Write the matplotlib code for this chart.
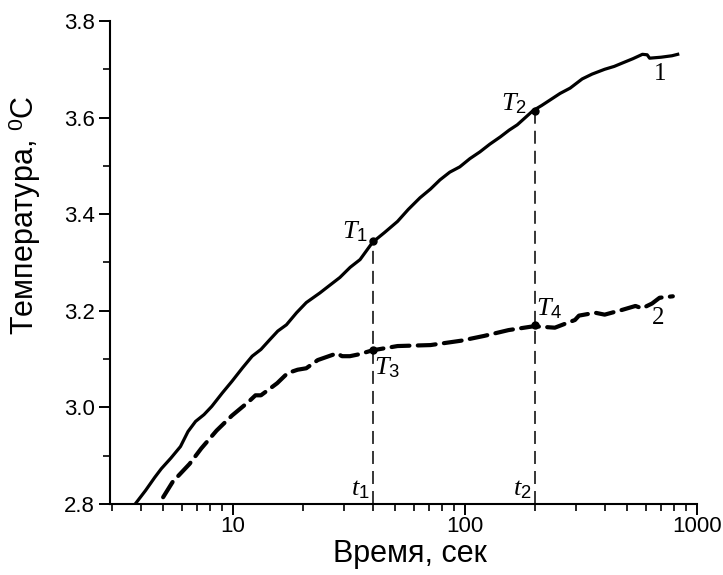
"""
plot.py
Temperature rise vs. time (log scale) for two curves, with the
reference points T1..T4 read at t1 = 40 s and t2 = 200 s.
Out: out.png
"""
import matplotlib
matplotlib.use("Agg")
import matplotlib.pyplot as plt
from matplotlib.ticker import FixedLocator, MultipleLocator, NullFormatter

# curve 1 (solid)
time1 = [3.79, 4.2, 4.6, 4.91, 5.4, 5.94, 6.4, 6.9, 7.5, 8.1, 9.0, 9.9, 11.0, 12.1,
         13.2, 14.4, 15.6, 17.0, 18.8, 20.7, 22.0, 23.7, 26.0, 28.9, 32.0, 35.3, 40.0,
         45.0, 51.2, 57.0, 64.0, 71.0, 78.0, 86.0, 95.0, 105.0, 116.0, 128.0, 142.0,
         155.0, 168.0, 182.0, 196.0, 214.0, 232.0, 257.0, 284.0, 320.0, 353.0, 400.0,
         440.0, 477.0, 530.0, 582.0, 610.0, 625.0, 700.0, 780.0, 826.0]
temp1 = [2.800, 2.828, 2.855, 2.873, 2.895, 2.919, 2.950, 2.971, 2.985, 3.002, 3.030,
         3.054, 3.082, 3.106, 3.120, 3.140, 3.158, 3.171, 3.196, 3.217, 3.226, 3.237,
         3.252, 3.269, 3.290, 3.306, 3.342, 3.362, 3.385, 3.410, 3.434, 3.452, 3.471,
         3.487, 3.498, 3.515, 3.529, 3.545, 3.560, 3.574, 3.585, 3.600, 3.614, 3.625,
         3.636, 3.650, 3.661, 3.680, 3.690, 3.700, 3.706, 3.713, 3.722, 3.731, 3.730,
         3.723, 3.725, 3.728, 3.731]

# curve 2 (dashed)
time2 = [5.0, 5.5, 6.5, 7.3, 8.5, 9.9, 11.7, 12.5, 13.2, 15.5, 17.2, 19.0, 20.7, 23.2,
         28.1, 29.5, 31.9, 35.0, 39.8, 51.2, 71.0, 96.0, 121.0, 154.0, 198.0, 244.0,
         298.0, 310.0, 364.0, 400.0, 477.0, 543.0, 580.0, 640.0, 690.0, 787.0]
temp2 = [2.814, 2.846, 2.883, 2.915, 2.952, 2.983, 3.012, 3.025, 3.025, 3.050, 3.071,
         3.078, 3.081, 3.098, 3.112, 3.106, 3.106, 3.110, 3.118, 3.127, 3.129, 3.138,
         3.148, 3.160, 3.168, 3.165, 3.181, 3.190, 3.196, 3.192, 3.202, 3.210, 3.205,
         3.215, 3.227, 3.230]

# reference times and points
t_marks = [40, 200]
t_names = ["$t_{\\mathit{1}}$", "$t_{\\mathit{2}}$"]
T_upper = [3.345, 3.614]   # T1, T2 on curve 1
T_lower = [3.119, 3.171]   # T3, T4 on curve 2

plt.rcParams.update({
    "font.family": ["Liberation Sans", "DejaVu Sans"],
    "mathtext.fontset": "custom",
    "mathtext.rm": "Liberation Sans",
    "mathtext.it": "Liberation Serif:italic",
    "mathtext.cal": "Liberation Serif:italic",
})

fig = plt.figure(figsize=(7.23, 5.75), dpi=100)
ax = fig.add_axes([0.1521, 0.1235, 0.8119, 0.8400])

ax.plot(time1, temp1, color="black", lw=2.3, solid_joinstyle="round")
ax.plot(time2, temp2, color="black", lw=3.0, linestyle=(0, (4.3, 2.0)),
        dash_capstyle="round")

for t, hi in zip(t_marks, T_upper):
    ax.plot([t, t], [2.8, hi], color="black", lw=1.1, linestyle=(0, (8.5, 4.6)))
ax.plot(t_marks, T_upper, "o", color="black", ms=5)
ax.plot(t_marks, T_lower, "o", color="black", ms=5)

lbl = 19
ax.annotate("$T_{\\mathit{1}}$", (t_marks[0], T_upper[0]), xytext=(-3, 2),
            textcoords="offset points", ha="right", va="baseline", fontsize=lbl)
ax.annotate("$T_{\\mathit{2}}$", (t_marks[1], T_upper[1]), xytext=(-6, 0),
            textcoords="offset points", ha="right", va="baseline", fontsize=lbl)
ax.annotate("$T_{\\mathit{3}}$", (t_marks[0], T_lower[0]), xytext=(1, -4),
            textcoords="offset points", ha="left", va="top", fontsize=lbl)
ax.annotate("$T_{\\mathit{4}}$", (t_marks[1], T_lower[1]), xytext=(1, 7),
            textcoords="offset points", ha="left", va="baseline", fontsize=lbl)
for t, name in zip(t_marks, t_names):
    ax.annotate(name, (t, 2.8), xytext=(-2, 6), textcoords="offset points",
                ha="right", va="baseline", fontsize=lbl)

ax.text(692, 3.69, "1", family="Liberation Serif", fontsize=18, ha="center", va="center")
ax.text(680, 3.185, "2", family="Liberation Serif", fontsize=18, ha="center", va="center")

ax.set_xscale("log")
ax.set_xlim(2.95, 1000)
ax.set_ylim(2.8, 3.8)
ax.xaxis.set_major_locator(FixedLocator([10, 100, 1000]))
ax.set_xticklabels(["10", "100", "1000"])
ax.xaxis.set_minor_locator(FixedLocator([3, 4, 5, 6, 7, 8, 9, 20, 30, 40, 50, 60, 70, 80, 90,
                                         200, 300, 400, 500, 600, 700, 800, 900]))
ax.xaxis.set_minor_formatter(NullFormatter())
ax.yaxis.set_major_locator(MultipleLocator(0.2))
ax.yaxis.set_minor_locator(MultipleLocator(0.1))
ax.yaxis.set_major_formatter(plt.FuncFormatter(lambda v, p: f"{v:.1f}"))

ax.spines[["top", "right"]].set_visible(False)
ax.spines[["left", "bottom"]].set_linewidth(1.5)
ax.tick_params(which="major", direction="out", length=8, width=1.4, labelsize=16)
ax.tick_params(which="minor", direction="out", length=5, width=1.2)
ax.tick_params(axis="x", which="major", pad=1)
ax.tick_params(axis="y", which="major", pad=3)

ax.set_xlabel("Время, сек", fontsize=22)
ax.set_ylabel("Температура, $^{0}$C", fontsize=22)
ax.xaxis.set_label_coords(0.511, -0.0725)
ax.yaxis.set_label_coords(-0.114, 0.598)

fig.savefig("out.png", dpi=100, facecolor="white")
